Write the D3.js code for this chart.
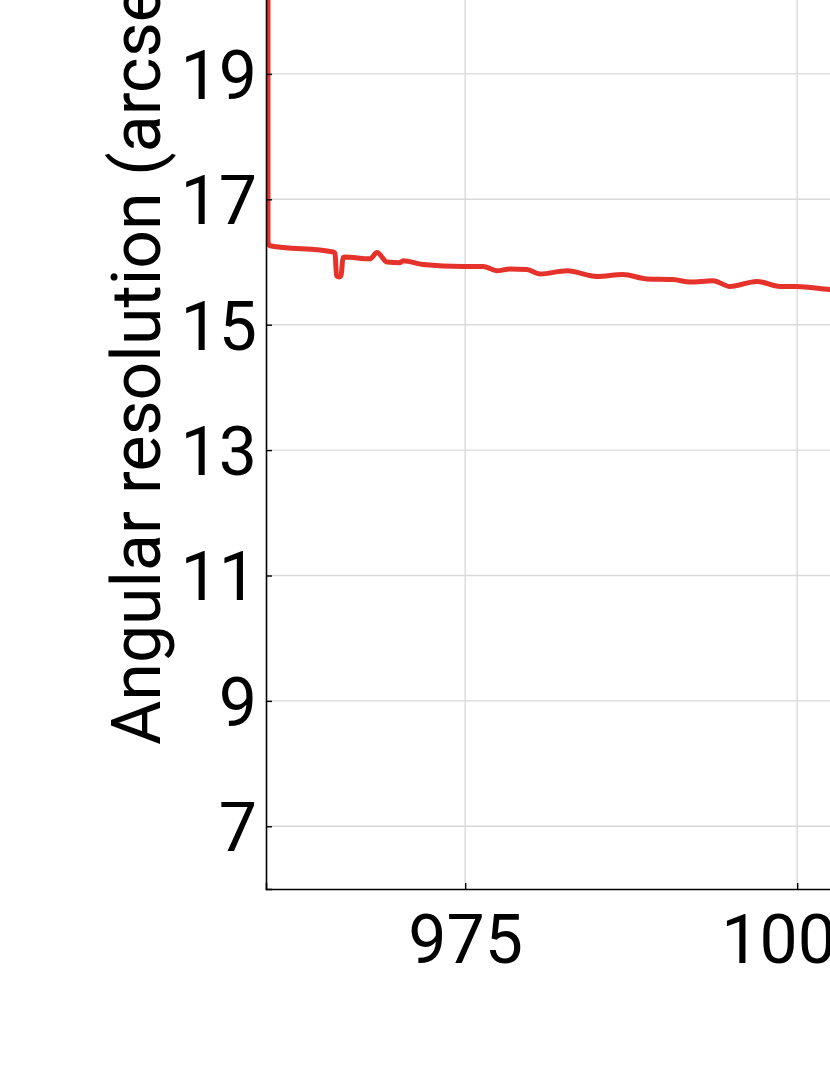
<!DOCTYPE html>
<html>
<head>
<meta charset="utf-8">
<script src="https://cdn.jsdelivr.net/npm/d3@7"></script>
<style>
  html, body { margin: 0; padding: 0; background: #fff; overflow: hidden; }
  svg { display: block; font-family: Roboto, "Noto Sans", sans-serif; }
</style>
</head>
<body>
<svg id="chart" width="830" height="1075"></svg>
<script>
// Wavelength (x) and angular resolution (y)
const wavelength = [960.15, 960.15, 960.30, 965.05, 965.20, 965.31, 965.50, 965.65, 965.80, 965.95,
  967.83, 968.36, 969.11, 970.09, 970.32, 971.82, 974.83, 976.34, 977.39, 978.37, 979.65,
  980.63, 982.67, 984.92, 986.88, 988.69, 990.65, 991.93, 993.66, 994.94, 996.97, 998.70,
  999.92, 1002.41, 1003.5];
const resolution = [21.5, 16.32, 16.26, 16.16, 16.14, 15.78, 15.76, 15.78, 16.07, 16.08,
  16.05, 16.15, 16.00, 15.99, 16.02, 15.96, 15.93, 15.93, 15.86, 15.89, 15.88,
  15.81, 15.86, 15.77, 15.80, 15.73, 15.72, 15.68, 15.70, 15.61, 15.69, 15.61,
  15.61, 15.56, 15.54];
const xTicks = [975, 1000];
const yTicks = [7, 9, 11, 13, 15, 17, 19];
const yLabel = "Angular resolution (arcsec)";

const svg = d3.select("#chart");
const left = 266, bottom = 889;
const x = d3.scaleLinear().domain([960, 1030]).range([left, left + 70 * 13.28]);
const y = d3.scaleLinear().domain([6, 22]).range([bottom, bottom - 16 * 62.7]);

const plotTop = y(22), plotRight = x(1030);

svg.append("defs").append("clipPath").attr("id", "clip")
  .append("rect").attr("x", left).attr("y", plotTop)
  .attr("width", plotRight - left).attr("height", bottom - plotTop);

// grid
svg.append("g").selectAll("line").data(xTicks).join("line")
  .attr("x1", d => x(d)).attr("x2", d => x(d))
  .attr("y1", plotTop).attr("y2", bottom)
  .attr("stroke", "#d9d9d9").attr("stroke-width", 1.4);
svg.append("g").selectAll("line").data(yTicks).join("line")
  .attr("x1", left).attr("x2", plotRight)
  .attr("y1", d => y(d)).attr("y2", d => y(d))
  .attr("stroke", "#d9d9d9").attr("stroke-width", 1.4);

// data line
const pts = wavelength.map((w, i) => [w, resolution[i]]);
svg.append("path").datum(pts)
  .attr("clip-path", "url(#clip)")
  .attr("fill", "none").attr("stroke", "#e5322a").attr("stroke-width", 5)
  .attr("stroke-linejoin", "round")
  .attr("d", d3.line().x(d => x(d[0])).y(d => y(d[1])).curve(d3.curveMonotoneX));

// axes with inward ticks
const gx = svg.append("g").attr("transform", `translate(0,${bottom})`)
  .call(d3.axisBottom(x).tickValues(xTicks).tickSize(-6).tickPadding(26).tickFormat(d3.format("d")));
const gy = svg.append("g").attr("transform", `translate(${left},0)`)
  .call(d3.axisLeft(y).tickValues(yTicks).tickSize(-6).tickPadding(9).tickFormat(d3.format("d")));
[gx, gy].forEach(g => {
  g.select(".domain").attr("stroke", "#000").attr("stroke-width", 1.6);
  g.selectAll(".tick line").attr("stroke", "#000").attr("stroke-width", 1.4);
  g.selectAll(".tick text").attr("fill", "#000").attr("font-size", 68)
    .attr("font-family", "Roboto, sans-serif");
});
gx.selectAll(".tick text").attr("dy", "0.71em");
gy.selectAll(".tick text").attr("dy", "0.36em");

// y label
svg.append("text")
  .attr("transform", "translate(160,745) rotate(-90)")
  .attr("text-anchor", "start")
  .attr("font-size", 68).attr("fill", "#000")
  .text(yLabel);
</script>
</body>
</html>
